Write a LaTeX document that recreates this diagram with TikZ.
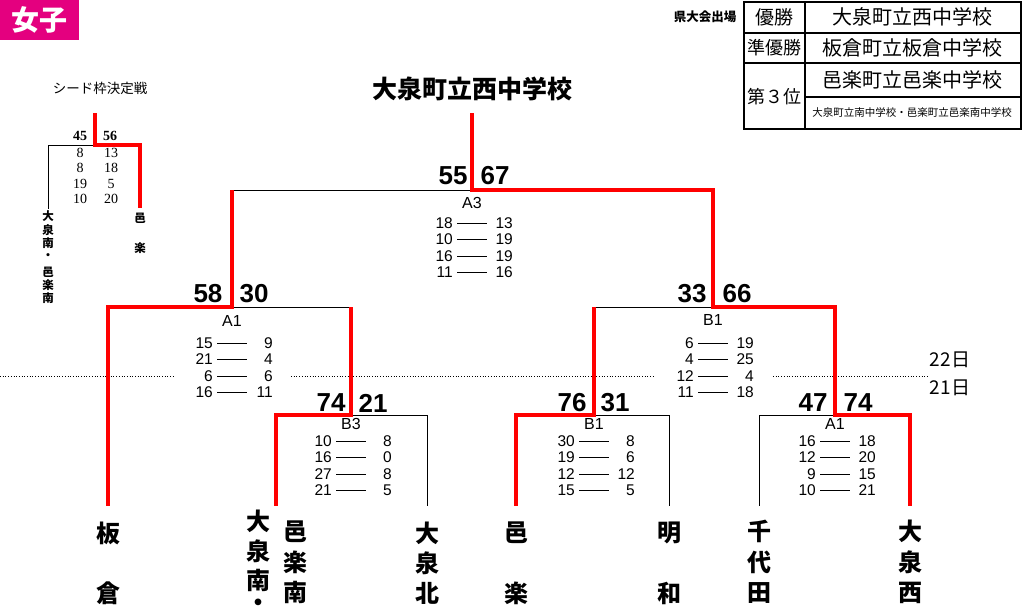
\documentclass[tikz,border=0pt]{standalone}
\usepackage{fontspec}
\setmainfont{Liberation Sans}
\newfontfamily\jpfont{Noto Sans CJK JP}
\newfontfamily\serifnum{Liberation Serif}
\definecolor{girlpink}{RGB}{228,0,127}

\tikzset{
  win/.style={red, line width=3.2pt, line join=miter},
  lose/.style={black, line width=0.8pt},
  bignum/.style={font=\bfseries\fontsize{26}{26}\selectfont, inner sep=0pt},
  setnum/.style={font=\fontsize{15.5}{15.5}\selectfont, inner sep=0pt},
  roundlbl/.style={font=\fontsize{16}{16}\selectfont, inner sep=0pt},
  team/.style={font=\jpfont\bfseries\fontsize{24}{24}\selectfont, inner sep=0pt},
  seedteam/.style={font=\jpfont\bfseries\fontsize{11.5}{11.5}\selectfont, inner sep=0pt},
  seednum/.style={font=\serifnum\fontsize{14}{14}\selectfont, inner sep=0pt},
  tabtext/.style={font=\jpfont\fontsize{20}{20}\selectfont, inner sep=0pt},
}

% set scores under a game: prefix, junction x, first row y, list
\newcommand{\setrows}[4]{%
  \foreach \l/\r [count=\k] in {#4} {
    \node[setnum, anchor=east] (#1l\k) at ({#2-19},{#3+(\k-1)*16.5}) {\l};
    \node[setnum, anchor=east] (#1r\k) at ({#2+41},{#3+(\k-1)*16.5}) {\r};
    \draw[line width=0.8pt] ({#2-15},{#3+(\k-1)*16.5}) -- ({#2+15},{#3+(\k-1)*16.5});
  }
}

\begin{document}
\begin{tikzpicture}[x=1pt,y=-1pt]
  \useasboundingbox (0,0) rectangle (1024,613);

  \node[fill=girlpink, text=white, font=\jpfont\bfseries\fontsize{28}{28}\selectfont,
        minimum width=79pt, minimum height=40pt, inner sep=0pt, anchor=north west] (girls) at (0,0) {女子};

  % result table
  \node[font=\jpfont\bfseries\fontsize{12.5}{12.5}\selectfont, inner sep=0pt] (kentaikai) at (705,17) {県大会出場};
  \draw[line width=1.2pt] (744,2) rectangle (1021,129);
  \draw[line width=1.2pt] (805,2) -- (805,129);
  \draw[line width=1.2pt] (744,33) -- (1021,33);
  \draw[line width=1.2pt] (744,63) -- (1021,63);
  \draw[line width=1.2pt] (805,97) -- (1021,97);
  \node[tabtext, font=\jpfont\fontsize{19}{19}\selectfont] (yusho) at (774,17) {優勝};
  \node[tabtext] (first) at (912,17) {大泉町立西中学校};
  \node[tabtext, font=\jpfont\fontsize{18}{18}\selectfont] (junyusho) at (774,48) {準優勝};
  \node[tabtext] (second) at (912,48) {板倉町立板倉中学校};
  \node[tabtext, font=\jpfont\fontsize{18}{18}\selectfont] (daisan) at (774,97) {第３位};
  \node[tabtext] (thirdA) at (912,80) {邑楽町立邑楽中学校};
  \node[tabtext, font=\jpfont\fontsize{10.5}{10.5}\selectfont] (thirdB) at (912,112) {大泉町立南中学校・邑楽町立邑楽南中学校};

  % seed game
  \node[font=\jpfont\fontsize{13.5}{13.5}\selectfont, inner sep=0pt] (seedtitle) at (100,88) {シード枠決定戦};
  \coordinate (seedtop) at (95,113);
  \coordinate (seed) at (95,145);
  \coordinate (seedL) at (48,145);
  \coordinate (seedR) at (140,145);
  \coordinate (seedLb) at (48,209);
  \coordinate (seedRb) at (140,208);
  \draw[lose] (seed) -- (seedL) -- (seedLb);
  \draw[win] (seedtop) -- (seed) -- (seedR) -- (seedRb);
  \node[seednum, font=\serifnum\bfseries\fontsize{14}{14}\selectfont] (seedsl) at (80,136) {45};
  \node[seednum, font=\serifnum\bfseries\fontsize{14}{14}\selectfont] (seedsr) at (110,136) {56};
  \foreach \l/\r/\y in {8/13/153, 8/18/168, 19/5/184, 10/20/199}
    \node[seednum] (seedl\y) at (80,\y) {\l} node[seednum] (seedr\y) at (111,\y) {\r};
  \foreach \c/\y [count=\k] in {大/216, 泉/230, 南/243, ・/257, 邑/272, 楽/285, 南/298}
    \node[seedteam] (seedteamL\k) at (48,\y) {\c};
  \foreach \c/\y [count=\k] in {邑/218, 楽/248}
    \node[seedteam] (seedteamR\k) at (140,\y) {\c};

  % champion
  \node[font=\jpfont\bfseries\fontsize{25}{25}\selectfont, inner sep=0pt] (champion) at (472,89) {大泉町立西中学校};

  % bracket points
  \coordinate (champ) at (472,113);
  \coordinate (fin) at (472,190);
  \coordinate (finL) at (232,190);
  \coordinate (finR) at (713,190);
  \coordinate (sfL) at (232,307);
  \coordinate (sfLl) at (108,307);
  \coordinate (sfLr) at (351,307);
  \coordinate (sfR) at (713,307);
  \coordinate (sfRl) at (594,307);
  \coordinate (sfRr) at (835,307);
  \coordinate (qfA) at (351,415);
  \coordinate (qfAl) at (276,415);
  \coordinate (qfAr) at (427,415);
  \coordinate (qfB) at (594,415);
  \coordinate (qfBl) at (516,415);
  \coordinate (qfBr) at (669,415);
  \coordinate (qfC) at (835,415);
  \coordinate (qfCl) at (759,415);
  \coordinate (qfCr) at (910,415);
  \foreach \x/\n in {108/itakura, 276/minami, 427/kita, 516/ora, 669/meiwa, 759/chiyoda, 910/nishi}
    \coordinate (\n) at (\x,506);

  % day divider
  \draw[dotted, line width=0.7pt] (0,376) -- (173,376);
  \draw[dotted, line width=0.7pt] (291,376) -- (653,376);
  \draw[dotted, line width=0.7pt] (773,376) -- (927,376);
  \node[font=\jpfont\fontsize{19}{19}\selectfont, inner sep=0pt] (day22) at (950,360) {22日};
  \node[font=\jpfont\fontsize{19}{19}\selectfont, inner sep=0pt] (day21) at (950,388) {21日};

  % losing lines
  \draw[lose] (fin) -- (finL);
  \draw[lose] (sfL) -- (sfLr);
  \draw[lose] (sfR) -- (sfRl);
  \draw[lose] (qfA) -- (qfAr) -- (kita);
  \draw[lose] (qfB) -- (qfBr) -- (meiwa);
  \draw[lose] (qfC) -- (qfCl) -- (chiyoda);

  % winning lines
  \draw[win] (champ) -- (fin) -- (finR) -- (sfR) -- (sfRr) -- (qfC) -- (qfCr) -- (nishi);
  \draw[win] (finL) -- (sfL) -- (sfLl) -- (itakura);
  \draw[win] (sfLr) -- (qfA) -- (qfAl) -- (minami);
  \draw[win] (sfRl) -- (qfB) -- (qfBl) -- (ora);

  % scores
  \node[bignum] (finsl) at (453,176) {55};
  \node[bignum] (finsr) at (495,176) {67};
  \node[bignum] (sfLsl) at (208,294) {58};
  \node[bignum] (sfLsr) at (254,294) {30};
  \node[bignum] (sfRsl) at (692,294) {33};
  \node[bignum] (sfRsr) at (737,294) {66};
  \node[bignum] (qfAsl) at (331,403) {74};
  \node[bignum] (qfAsr) at (373,403) {21};
  \node[bignum] (qfBsl) at (572,403) {76};
  \node[bignum] (qfBsr) at (615,403) {31};
  \node[bignum] (qfCsl) at (813,403) {47};
  \node[bignum] (qfCsr) at (858,403) {74};

  \node[roundlbl] (finlbl) at (472,203) {A3};
  \node[roundlbl] (sfLlbl) at (232,321) {A1};
  \node[roundlbl] (sfRlbl) at (713,320) {B1};
  \node[roundlbl] (qfAlbl) at (351,424) {B3};
  \node[roundlbl] (qfBlbl) at (594,424) {B1};
  \node[roundlbl] (qfClbl) at (835,424) {A1};

  \setrows{fin}{472}{223}{18/13, 10/19, 16/19, 11/16}
  \setrows{sfL}{232}{343}{15/9, 21/4, 6/6, 16/11}
  \setrows{sfR}{713}{343}{6/19, 4/25, 12/4, 11/18}
  \setrows{qfA}{351}{441}{10/8, 16/0, 27/8, 21/5}
  \setrows{qfB}{594}{441}{30/8, 19/6, 12/12, 15/5}
  \setrows{qfC}{835}{441}{16/18, 12/20, 9/15, 10/21}

  % teams
  \foreach \c/\y [count=\k] in {板/533, 倉/593}
    \node[team] (itakura\k) at (108,\y) {\c};
  \foreach \c/\y [count=\k] in {大/521, 泉/551, 南/580, ・/605}
    \node[team] (minamiA\k) at (258,\y) {\c};
  \foreach \c/\y [count=\k] in {邑/532, 楽/562, 南/592}
    \node[team] (minamiB\k) at (295,\y) {\c};
  \foreach \c/\y [count=\k] in {大/533, 泉/563, 北/593}
    \node[team] (kita\k) at (427,\y) {\c};
  \foreach \c/\y [count=\k] in {邑/533, 楽/593}
    \node[team] (ora\k) at (516,\y) {\c};
  \foreach \c/\y [count=\k] in {明/533, 和/593}
    \node[team] (meiwa\k) at (669,\y) {\c};
  \foreach \c/\y [count=\k] in {千/531, 代/562, 田/593}
    \node[team] (chiyoda\k) at (759,\y) {\c};
  \foreach \c/\y [count=\k] in {大/531, 泉/562, 西/593}
    \node[team] (nishi\k) at (910,\y) {\c};
\end{tikzpicture}
\end{document}
